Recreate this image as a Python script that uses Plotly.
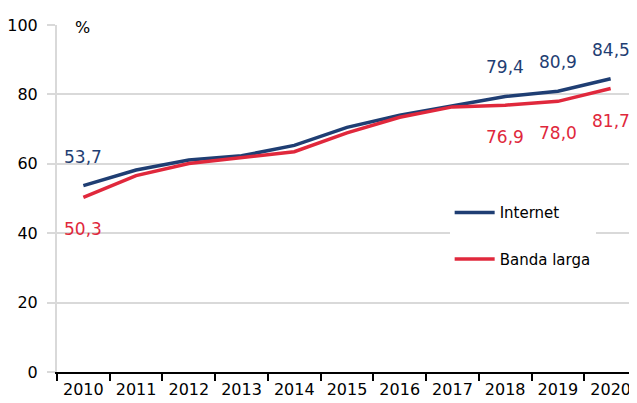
import plotly.graph_objects as go

years = ["2010", "2011", "2012", "2013", "2014", "2015", "2016", "2017", "2018", "2019", "2020"]
internet = [53.7, 58.2, 61.1, 62.3, 65.3, 70.5, 74.0, 76.8, 79.4, 80.9, 84.5]
banda_larga = [50.3, 56.6, 60.1, 61.8, 63.5, 68.9, 73.4, 76.4, 76.9, 78.0, 81.7]
labeled_idx = [0, 8, 9, 10]
y_ticks = [0, 20, 40, 60, 80, 100]

NAVY = "#1F3E73"
RED = "#E0283C"
FONT = "DejaVu Sans"

def fmt(v):
    return f"{v:.1f}".replace(".", ",")

fig = go.Figure()
fig.add_trace(go.Scatter(x=years, y=internet, mode="lines", name="Internet",
                         line=dict(color=NAVY, width=3.5), legendgroup="a"))
fig.add_trace(go.Scatter(x=years, y=banda_larga, mode="lines", name="Banda larga",
                         line=dict(color=RED, width=3.5), legendgroup="b"))

annotations = []
for i in labeled_idx:
    annotations.append(dict(x=i, xref="x", y=internet[i], yref="y", text=fmt(internet[i]), showarrow=False,
                            yshift=29, font=dict(family=FONT, size=17, color=NAVY)))
    annotations.append(dict(x=i, xref="x", y=banda_larga[i], yref="y", text=fmt(banda_larga[i]), showarrow=False,
                            yshift=-32, font=dict(family=FONT, size=17, color=RED)))
annotations.append(dict(x=0.0, xref="x domain", y=100, yref="y", text="%", showarrow=False,
                        xanchor="left", xshift=16, yshift=-2,
                        bgcolor="white", font=dict(family=FONT, size=16, color="black")))

# page body has an 8px margin, so the figure is 8px smaller than the window
fig.update_layout(
    width=629, height=395,
    margin=dict(l=49, r=0, t=17, b=31, autoexpand=False),
    plot_bgcolor="white", paper_bgcolor="white",
    font=dict(family=FONT, size=15, color="black"),
    showlegend=True,
    legend=dict(x=0.677, y=0.393, xanchor="left", yanchor="middle",
                bgcolor="white", font=dict(family=FONT, size=15, color="black"),
                tracegroupgap=24, itemwidth=40),
    annotations=annotations,
    xaxis=dict(type="category", tickson="boundaries", showgrid=False, automargin=False,
               showline=True, linecolor="black", linewidth=2,
               ticks="outside", ticklen=7, tickwidth=2, tickcolor="black",
               tickangle=0, ticklabelstandoff=2,
               range=[-0.5, 10.5], tickfont=dict(family=FONT, size=16)),
    yaxis=dict(range=[0, 100], tickvals=y_ticks, showgrid=True, gridcolor="#D9D9D9", gridwidth=2,
               showline=True, linecolor="#D9D9D9", linewidth=2, zeroline=False, automargin=False,
               ticks="outside", ticklen=8, tickwidth=2, tickcolor="#D9D9D9",
               ticklabelstandoff=6, tickfont=dict(family=FONT, size=16)),
)

fig.write_html("out.html")
